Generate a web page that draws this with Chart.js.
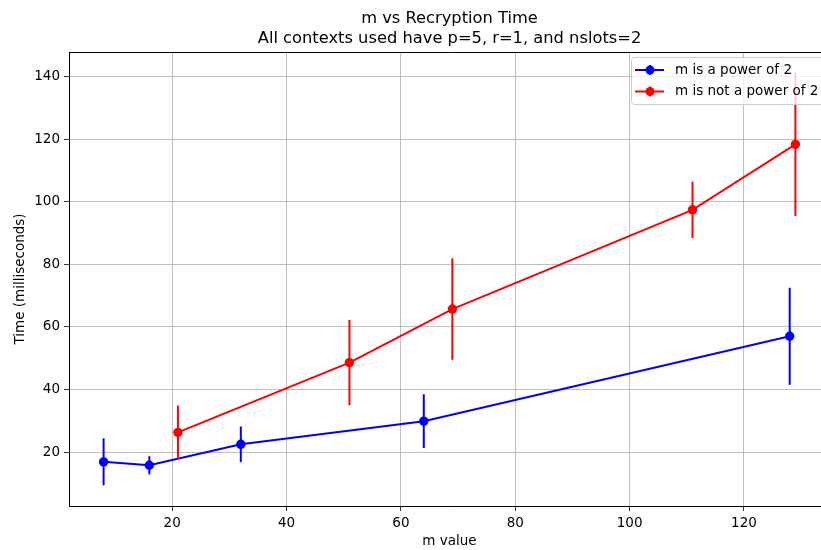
<!DOCTYPE html>
<html>
<head>
<meta charset="utf-8">
<title>m vs Recryption Time</title>
<script src="https://cdn.jsdelivr.net/npm/chart.js@4/dist/chart.umd.min.js"></script>
<style>
  html, body { margin: 0; background: #fff; overflow: hidden; }
  /* the original figure was cropped on the right, so the canvas runs past the page */
  #wrap { width: 821px; height: 550px; overflow: hidden; }
</style>
</head>
<body>
<div id="wrap"><canvas id="recryptChart" width="830" height="550"></canvas></div>
<script>
// m values and recryption times (ms) with their error bars
const powX = [8, 16, 32, 64, 128];
const powY = [16.9, 15.8, 22.5, 29.9, 57.0];
const powErr = [7.5, 2.9, 5.7, 8.6, 15.5];

const nonPowX = [21, 51, 69, 111, 129];
const nonPowY = [26.3, 48.6, 65.7, 97.4, 118.3];
const nonPowErr = [8.6, 13.6, 16.2, 9.0, 22.9];

const xTicks = [20, 40, 60, 80, 100, 120];
const yTicks = [20, 40, 60, 80, 100, 120, 140];

const seriesNames = ['m is a power of 2', 'm is not a power of 2'];
const seriesColors = ['#0000ff', '#ff0000'];
const errors = [powErr, nonPowErr];

const FONT = 'DejaVu Sans';
const TXT = 13.5;

function toPoints(xs, ys) {
    return xs.map((x, i) => ({ x: x, y: ys[i] }));
}

// vertical error bars, drawn just under each series' line and markers
const errorBars = {
    id: 'errorBars',
    beforeDatasetDraw(chart, args) {
        const ctx = chart.ctx;
        const xs = chart.scales.x, ys = chart.scales.y;
        const ds = chart.data.datasets[args.index];
        const err = errors[args.index];
        ctx.save();
        ctx.strokeStyle = ds.borderColor;
        ctx.lineWidth = 2;
        ds.data.forEach((p, i) => {
            const px = xs.getPixelForValue(p.x);
            ctx.beginPath();
            ctx.moveTo(px, ys.getPixelForValue(p.y + err[i]));
            ctx.lineTo(px, ys.getPixelForValue(p.y - err[i]));
            ctx.stroke();
        });
        ctx.restore();
    }
};

// top spine + matplotlib style legend box in the upper right
const frameAndLegend = {
    id: 'frameAndLegend',
    afterDraw(chart) {
        const ctx = chart.ctx;
        const a = chart.chartArea;
        ctx.save();
        ctx.strokeStyle = '#000';
        ctx.lineWidth = 1;
        ctx.beginPath();
        ctx.moveTo(a.left, a.top + 0.5);
        ctx.lineTo(a.right, a.top + 0.5);
        ctx.stroke();

        // legend frame
        const bx = 631.5, by = 57.5, bw = 193, bh = 47;
        ctx.fillStyle = 'rgba(255,255,255,0.8)';
        ctx.strokeStyle = '#cccccc';
        ctx.beginPath();
        ctx.roundRect(bx, by, bw, bh, 3);
        ctx.fill();
        ctx.stroke();

        ctx.font = TXT + 'px "' + FONT + '"';
        ctx.textBaseline = 'middle';
        seriesNames.forEach((name, i) => {
            const y = 70 + i * 21.5;
            ctx.strokeStyle = seriesColors[i];
            ctx.fillStyle = seriesColors[i];
            ctx.lineWidth = 2;
            ctx.beginPath();
            ctx.moveTo(635, y);
            ctx.lineTo(664, y);
            ctx.moveTo(650, y - 5);
            ctx.lineTo(650, y + 5);
            ctx.stroke();
            ctx.beginPath();
            ctx.arc(650, y, 4.5, 0, Math.PI * 2);
            ctx.fill();
            ctx.fillStyle = '#000';
            ctx.fillText(name, 675, y);
        });
        ctx.restore();
    }
};

const ctx = document.getElementById('recryptChart').getContext('2d');
const recryptChart = new Chart(ctx, {
    type: 'line',
    data: {
        datasets: [{
            label: seriesNames[0],
            data: toPoints(powX, powY),
            borderColor: seriesColors[0],
            backgroundColor: seriesColors[0],
            order: 2
        }, {
            label: seriesNames[1],
            data: toPoints(nonPowX, nonPowY),
            borderColor: seriesColors[1],
            backgroundColor: seriesColors[1],
            order: 1
        }]
    },
    options: {
        responsive: false,
        animation: false,
        events: [],
        layout: { padding: 0, autoPadding: false },
        elements: {
            line: { borderWidth: 2, tension: 0, fill: false },
            point: { radius: 4.7, borderWidth: 0, hoverRadius: 4.7 }
        },
        plugins: {
            legend: { display: false },
            tooltip: { enabled: false },
            title: {
                display: true,
                fullSize: false,
                text: ['m vs Recryption Time', 'All contexts used have p=5, r=1, and nslots=2'],
                color: '#000',
                font: { family: FONT, size: 16.3, weight: 'normal', lineHeight: 20 / 16.3 },
                padding: { top: 9, bottom: 3 }
            }
        },
        scales: {
            x: {
                type: 'linear',
                min: 1.95,
                max: 135.05,
                afterBuildTicks: axis => { axis.ticks = xTicks.map(v => ({ value: v })); },
                afterFit: axis => { axis.height = 44; axis.paddingLeft = 0; axis.paddingRight = 0; },
                grid: { color: '#b0b0b0', lineWidth: 0.8, tickColor: '#000', tickLength: 5 },
                border: { display: true, color: '#000', width: 1 },
                ticks: { color: '#000', padding: 4, maxRotation: 0, font: { family: FONT, size: TXT } },
                title: {
                    display: true, text: 'm value', color: '#000',
                    font: { family: FONT, size: TXT }, padding: { top: 0, bottom: 0 }
                }
            },
            y: {
                type: 'linear',
                min: 2.8,
                max: 147.8,
                afterBuildTicks: axis => { axis.ticks = yTicks.map(v => ({ value: v })); },
                afterFit: axis => { axis.width = 69; axis.paddingTop = 0; axis.paddingBottom = 0; },
                grid: { color: '#b0b0b0', lineWidth: 0.8, tickColor: '#000', tickLength: 5 },
                border: { display: true, color: '#000', width: 1 },
                ticks: { color: '#000', padding: 4, font: { family: FONT, size: TXT } },
                title: {
                    display: true, text: 'Time (milliseconds)', color: '#000',
                    font: { family: FONT, size: TXT }, padding: { top: 12, bottom: 0 }
                }
            }
        }
    },
    plugins: [errorBars, frameAndLegend]
});
</script>
</body>
</html>
